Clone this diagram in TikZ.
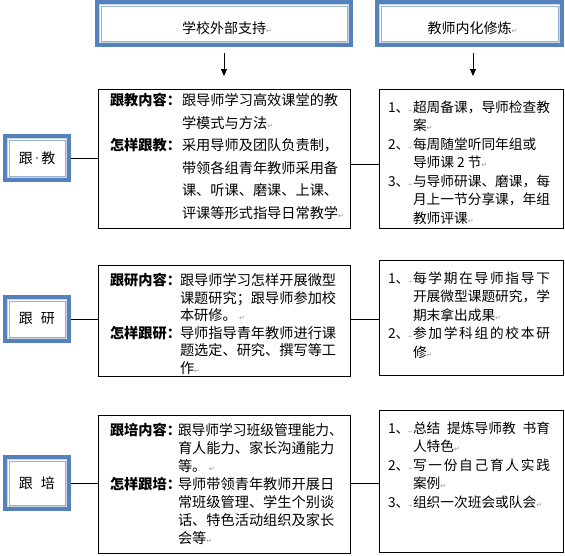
\documentclass[tikz,border=0pt]{standalone}
\usepackage{fontspec}
\usepackage{graphicx}
\setmainfont{Noto Sans CJK SC}
\newfontfamily\symf{DejaVu Sans}
\usetikzlibrary{arrows.meta,calc}
\setlength{\parindent}{0pt}
\definecolor{bordblue}{RGB}{84,130,189}
\definecolor{linegray}{RGB}{205,212,222}
\definecolor{lineblue}{RGB}{150,175,210}
\definecolor{markgray}{RGB}{150,150,150}
\newcommand\myret{{\symf\fontsize{7}{7}\selectfont\color{markgray}↵}}
\newcommand\mytab{{\symf\fontsize{5}{5}\selectfont\color{markgray}→}}
\newcommand\spdot{\makebox[8.5pt]{\raisebox{4.5pt}{\color{markgray}\rule{1.5pt}{1.5pt}}}}
\newcommand\mylab[2]{\makebox[#1][l]{\bfseries #2}}
\newcommand\mynum[1]{\makebox[25pt][l]{#1、\hspace{-1.5pt}\mytab}}
\newcommand\mynind{\hspace*{25pt}}
\newcommand\spreadln[1]{\makebox[137pt][s]{#1}}
\begin{document}
\begin{tikzpicture}[x=1pt,y=-1pt,
  dbl/.style={fill=bordblue, draw=none, inner sep=0pt, outer sep=0pt, anchor=north west,
    font=\fontsize{14}{14}\selectfont,
    path picture={
      \draw[line width=1pt, draw=linegray, fill=white]
        ([shift={(4.5pt,-4.5pt)}]path picture bounding box.north west) rectangle
        ([shift={(-4.5pt,4.5pt)}]path picture bounding box.south east);
      \draw[line width=0.8pt, draw=lineblue]
        ([shift={(6pt,-6pt)}]path picture bounding box.north west) rectangle
        ([shift={(-6pt,6pt)}]path picture bounding box.south east);
    }},
  plainbox/.style={draw=black, line width=0.8pt, inner sep=0pt, outer sep=0pt, anchor=north west},
  conn/.style={line width=0.8pt},
  arr/.style={line width=0.8pt, -{Triangle[length=7pt,width=6pt]}},
  txt/.style={inner sep=0pt, outer sep=0pt, anchor=base west}
]
\useasboundingbox (0,0) rectangle (565,555);

% top boxes
\node[dbl, minimum width=258pt, minimum height=47pt] (t1) at (95,0) {};
\node[inner sep=0pt, font=\fontsize{14}{14}\selectfont] (t1l) at ([yshift=-4.5pt]t1.center) {学校外部支持\rlap{\myret}};
\node[dbl, minimum width=189pt, minimum height=47pt] (t2) at (375,0) {};
\node[inner sep=0pt, font=\fontsize{14}{14}\selectfont] (t2l) at ([yshift=-4.5pt]t2.center) {教师内化修炼\rlap{\myret}};

% left boxes
\node[dbl, minimum width=68pt, minimum height=48pt] (l1) at (3,134) {跟\spdot 教};
\node[dbl, minimum width=68pt, minimum height=48pt] (l2) at (3,295) {跟\hspace{8pt}研};
\node[dbl, minimum width=68pt, minimum height=56pt] (l3) at (3,455) {跟\hspace{8pt}培};

% middle boxes
\node[plainbox, minimum width=252pt, minimum height=139pt] (m1) at (98,89) {};
\node[plainbox, minimum width=252pt, minimum height=111pt] (m2) at (98,265) {};
\node[plainbox, minimum width=252pt, minimum height=138pt] (m3) at (98,415) {};

% right boxes
\node[plainbox, minimum width=184pt, minimum height=139pt] (r1) at (379,89) {};
\node[plainbox, minimum width=184pt, minimum height=115pt] (r2) at (379,260) {};
\node[plainbox, minimum width=184pt, minimum height=142pt] (r3) at (379,410) {};

% middle texts
\node[txt] (m1t) at ([xshift=12pt,yshift=-16.4pt]m1.north west) {\parbox[t]{250pt}{\raggedright\fontsize{14.2}{22.6}\selectfont
\mylab{72pt}{跟教内容：}跟导师学习高效课堂的教\\
\hspace*{72pt}学模式与方法\myret\\
\mylab{72pt}{怎样跟教：}采用导师及团队负责制，\\
\hspace*{72pt}带领各组青年教师采用备\\
\hspace*{72pt}课、听课、磨课、上课、\\
\hspace*{72pt}评课等形式指导日常教学\myret}};

\node[txt] (m2t) at ([xshift=12pt,yshift=-20.4pt]m2.north west) {\parbox[t]{250pt}{\raggedright\fontsize{14.2}{17.6}\selectfont
\mylab{70pt}{跟研内容：}跟导师学习怎样开展微型\\
\hspace*{70pt}课题研究；跟导师参加校\\
\hspace*{70pt}本研修。\,\myret\\
\mylab{70pt}{怎样跟研：}导师指导青年教师进行课\\
\hspace*{70pt}题选定、研究、撰写等工\\
\hspace*{70pt}作\myret}};

\node[txt] (m3t) at ([xshift=12pt,yshift=-20.4pt]m3.north west) {\parbox[t]{250pt}{\raggedright\fontsize{14.2}{18}\selectfont
\mylab{68pt}{跟培内容：}\scalebox{0.968}[1]{跟导师学习班级管理能力、}\\
\hspace*{68pt}育人能力、家长沟通能力\\
\hspace*{68pt}等。\,\myret\\
\mylab{68pt}{怎样跟培：}导师带领青年教师开展日\\
\hspace*{68pt}常班级管理、学生个别谈\\
\hspace*{68pt}话、特色活动组织及家长\\
\hspace*{68pt}会等\myret}};

% right texts
\node[txt] (r1t) at ([xshift=9pt,yshift=-23.2pt]r1.north west) {\parbox[t]{180pt}{\raggedright\fontsize{13.7}{18.5}\selectfont
\mynum{1}超周备课，导师检查教\\
\mynind 案\myret\\
\mynum{2}每周随堂听同年组或\\
\mynind 导师课 2 节\myret\\
\mynum{3}与导师研课、磨课，每\\
\mynind 月上一节分享课，年组\\
\mynind 教师评课\myret}};

\node[txt] (r2t) at ([xshift=9pt,yshift=-23.2pt]r2.north west) {\parbox[t]{180pt}{\raggedright\fontsize{13.7}{18.5}\selectfont
\mynum{1}\spreadln{每\hfil 学\hfil 期\hfil 在\hfil 导\hfil 师\hfil 指\hfil 导\hfil 下}\\
\mynind 开展微型课题研究，学\\
\mynind 期末拿出成果\myret\\
\mynum{2}\spreadln{参\hfil 加\hfil 学\hfil 科\hfil 组\hfil 的\hfil 校\hfil 本\hfil 研}\\
\mynind 修\myret}};

\node[txt] (r3t) at ([xshift=9pt,yshift=-23.2pt]r3.north west) {\parbox[t]{180pt}{\raggedright\fontsize{13.7}{18.5}\selectfont
\mynum{1}\spreadln{总结 提炼导师教 书育}\\
\mynind 人特色\myret\\
\mynum{2}\spreadln{写\hfil 一\hfil 份\hfil 自\hfil 己\hfil 育\hfil 人\hfil 实\hfil 践}\\
\mynind 案例\myret\\
\mynum{3}组织一次班会或队会\myret}};

% arrows
\draw[arr] ([yshift=-6pt]t1.south) -- ([yshift=13pt]m1.north);
\draw[arr] ([xshift=3.5pt,yshift=-6pt]t2.south) -- ([xshift=2pt,yshift=13pt]r1.north);

% connectors
\draw[conn] (l1.east) -- (l1.east -| m1.west);
\draw[conn] ([yshift=-6pt]m1.east) -- ([yshift=-6pt]m1.east -| r1.west);
\draw[conn] (l2.east) -- (l2.east -| m2.west);
\draw[conn] (m2.east |- l2.east) -- (r2.west |- l2.east);
\draw[conn] (l3.east) -- (l3.east -| m3.west);
\draw[conn] (m3.east |- l3.east) -- (r3.west |- l3.east);
\end{tikzpicture}
\end{document}
